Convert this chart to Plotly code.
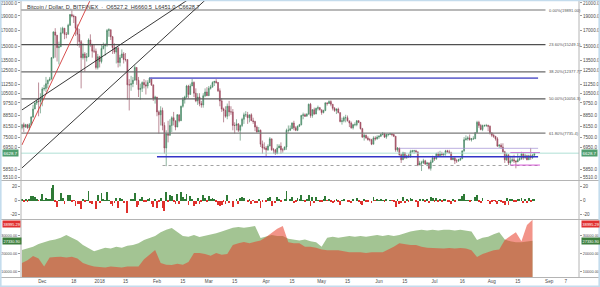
import numpy as np
import pandas as pd
import plotly.graph_objects as go

# ---------------- data ----------------
first_open = 8050.0
closes = [
    # Nov 20-30 2017
    8250, 8100, 8250, 8050, 8250, 8750, 9300, 9750, 9900, 9850, 9950,
    # Dec
    10850, 10900, 11300, 11600, 11700, 13800, 16800, 16400, 14900, 15000,
    16700, 17300, 16500, 16500, 17700, 19200, 19000, 18900, 17300, 16500,
    15600, 13800, 14200, 13800, 13900, 15800, 15300, 14500, 14500, 12800, 13900,
    # Jan 2018
    13400, 14800, 15100, 15200, 17000, 17100, 16200, 14900, 14400, 14900,
    13300, 13800, 14200, 13600, 13600, 11200, 11200, 11300, 11600, 12800,
    11600, 10800, 10900, 11400, 11200, 11100, 11400, 11800, 11200, 10100, 10200,
    # Feb
    9100, 8900, 9200, 8200, 6900, 7700, 7600, 8200, 8700, 8500,
    8100, 8900, 8500, 9500, 10000, 10200, 11100, 10400, 11100, 11400,
    10500, 9900, 10200, 9700, 9600, 10300, 10600, 10300,
    # Mar
    10900, 11000, 11400, 11500, 11400, 10700, 9900, 9300, 9200, 8800,
    9500, 9100, 9100, 8200, 8200, 8300, 7900, 8200, 8600, 8900,
    8900, 8700, 8900, 8500, 8450, 8100, 7800, 7900, 7100, 6900, 6900,
    # Apr
    6800, 7000, 7400, 6800, 6800, 6600, 6900, 7000, 6800, 6800,
    6950, 7900, 7900, 8000, 8350, 8050, 7900, 8150, 8250, 8850,
    8900, 8800, 8950, 9650, 8850, 9250, 8950, 9350, 9400, 9250,
    # May
    9050, 9200, 9750, 9700, 9850, 9650, 9350, 9200, 9300, 9050,
    8450, 8500, 8700, 8700, 8500, 8350, 8050, 8250, 8250, 8500,
    8400, 8000, 7500, 7600, 7450, 7350, 7350, 7100, 7450, 7400, 7500,
    # Jun
    7550, 7650, 7700, 7500, 7650, 7650, 7700, 7650, 7550, 6800,
    6900, 6550, 6300, 6650, 6400, 6500, 6450, 6700, 6750, 6750,
    6700, 6050, 6150, 6150, 6250, 6100, 6150, 5900, 6200, 6400,
    # Jul
    6350, 6600, 6500, 6600, 6550, 6600, 6750, 6700, 6650, 6300,
    6400, 6250, 6250, 6300, 6350, 6750, 7350, 7400, 7450, 7350,
    7400, 7400, 7750, 8400, 8200, 7950, 8200, 8200, 8200, 8150, 7750,
    # Aug 1-24
    7600, 7550, 7400, 7000, 7050, 6950, 6700, 6300, 6550, 6150,
    6250, 6300, 6250, 6200, 6300, 6350, 6600, 6400, 6500, 6300,
    6500, 6400, 6527.2, 6628.7,
]
highs = [
    8300, 8380, 8300, 8300, 8350, 8800, 9600, 9800, 9950, 11400, 10500,
    11000, 11200, 11900, 11650, 11900, 13850, 16900, 17300, 16400, 15600,
    17400, 17500, 17300, 16800, 17900, 19300, 19891, 19200, 19000, 17800,
    17200, 15800, 15400, 14400, 14300, 16000, 16500, 15300, 15300, 14800, 14200,
    14000, 15200, 15500, 15400, 17200, 17300, 17100, 16300, 15400, 14950,
    14900, 14100, 14700, 14400, 14300, 13600, 11700, 12000, 11900, 13000,
    12800, 11900, 11300, 11500, 11700, 11600, 11600, 11880, 11800, 11200, 10300,
    10200, 9200, 9500, 9400, 8400, 7900, 8500, 8600, 8800, 9100,
    8500, 8950, 8900, 9550, 10200, 10300, 11200, 11200, 11300, 11790,
    11500, 10900, 10500, 10500, 9900, 10500, 10900, 11000,
    11100, 11200, 11500, 11550, 11700, 11450, 10900, 10100, 9400, 9500,
    9700, 9900, 9500, 9300, 8400, 8600, 8350, 8250, 8700, 9050,
    9150, 9100, 8900, 9000, 8700, 8500, 8200, 8100, 7950, 7300, 7200,
    7000, 7100, 7500, 7400, 6900, 6850, 7100, 7100, 7200, 6900,
    6980, 8000, 8200, 8200, 8400, 8500, 8150, 8200, 8300, 8900,
    9050, 9000, 9000, 9700, 9750, 9300, 9400, 9400, 9550, 9450,
    9250, 9250, 9800, 9800, 9950, 9950, 9650, 9450, 9350, 9400,
    9050, 8700, 8800, 8900, 8850, 8500, 8450, 8300, 8400, 8550,
    8550, 8400, 8050, 7700, 7650, 7550, 7450, 7400, 7550, 7550, 7600,
    7600, 7700, 7800, 7750, 7700, 7700, 7750, 7700, 7700, 7550,
    6950, 6900, 6600, 6700, 6650, 6550, 6600, 6800, 6800, 6800,
    6800, 6700, 6250, 6250, 6350, 6300, 6200, 6170, 6300, 6500,
    6450, 6650, 6700, 6750, 6700, 6650, 6800, 6800, 6800, 6700,
    6400, 6400, 6350, 6350, 6400, 6750, 7500, 7600, 7550, 7650,
    7450, 7550, 7800, 8500, 8500, 8300, 8250, 8250, 8300, 8250, 8200,
    7750, 7700, 7550, 7500, 7100, 7150, 7150, 6750, 6650, 6550,
    6500, 6500, 6550, 6250, 6650, 6500, 6700, 6650, 6600, 6550,
    6550, 6900, 6580, 6660.5,
]
lows = [
    7950, 7800, 8050, 8000, 7900, 8200, 8700, 9300, 9600, 8800, 9000,
    9500, 10700, 10600, 10900, 11500, 11700, 13700, 13800, 13400, 13100,
    15000, 16600, 15900, 16000, 16500, 17600, 18800, 18000, 16300, 15100,
    14900, 10900, 13600, 12400, 13400, 13900, 15000, 13800, 14300, 12600, 12600,
    12800, 13200, 14700, 14000, 15000, 16200, 15800, 14200, 14200, 13200,
    12800, 12900, 13800, 13200, 13400, 10000, 9200, 10700, 11000, 11600,
    11200, 10200, 10000, 10600, 10900, 10400, 10900, 11400, 11100, 9900, 9700,
    8800, 7700, 8200, 7900, 6600, 6000, 7200, 7600, 7800, 8200,
    7900, 8100, 8400, 8500, 9400, 9700, 10100, 10100, 10400, 11100,
    10200, 9800, 9600, 9500, 9400, 9400, 10200, 10300,
    10300, 10800, 11000, 11100, 11300, 10600, 9500, 9100, 8400, 8700,
    8600, 8800, 8900, 7900, 7700, 7900, 7800, 7300, 8100, 8300,
    8750, 8300, 8400, 8500, 8300, 7850, 7750, 7800, 6950, 6600, 6800,
    6450, 6750, 7000, 6750, 6600, 6550, 6600, 6900, 6600, 6650,
    6800, 6800, 7750, 7850, 8000, 7900, 7850, 7850, 8100, 8200,
    8600, 8750, 8800, 8900, 8700, 8700, 8900, 8950, 9200, 9200,
    8900, 9000, 9150, 9550, 9700, 9500, 9200, 9100, 8950, 9000,
    8400, 8250, 8400, 8400, 8450, 8100, 8000, 7950, 8150, 8150,
    8350, 7950, 7450, 7300, 7400, 7300, 7250, 7050, 7100, 7300, 7350,
    7400, 7500, 7600, 7450, 7400, 7550, 7650, 7550, 7500, 6700,
    6700, 6500, 6150, 6300, 6350, 6350, 6400, 6400, 6650, 6600,
    6650, 6000, 6050, 5780, 6100, 6050, 6000, 5850, 5800, 6150,
    6250, 6300, 6480, 6450, 6500, 6450, 6500, 6650, 6600, 6300,
    6300, 6100, 6150, 6200, 6250, 6350, 6700, 7300, 7300, 7300,
    7250, 7350, 7400, 7750, 8050, 7900, 7850, 8100, 8100, 7850, 7650,
    7500, 7450, 7300, 6950, 6900, 6850, 6650, 6150, 6250, 6050,
    6050, 6200, 6150, 5900, 6200, 6250, 6300, 6300, 6350, 6280,
    6300, 6300, 6350, 6451.0,
]

# Bitfinex margin positions (sampled every 3 days from 2017-11-20)
longs = [22200, 23000, 24000, 25500, 26500, 27500, 28000, 29000, 30500, 29000,
         27500, 25000, 23300, 21500, 22500, 23500, 23000, 24000, 23500, 24500,
         25000, 26000, 27800, 29000, 30000, 32000, 33500, 34400, 32000, 30000,
         29500, 30500, 29400, 30000, 31000, 31500, 32500, 33500, 34500, 35000,
         34500, 35000, 35500, 28900, 29500, 30500, 30000, 30000, 28500, 28000,
         27500, 28000, 27000, 26500, 24000, 29000, 29500, 29000, 29500, 30000,
         29500, 30000, 29500, 30000, 30500, 30000, 30500, 30000, 30500, 31500,
         32500, 33000, 33500, 33000, 33500, 33000, 33500, 33500, 33000, 33500,
         33000, 32500, 27800, 29000, 29500, 31000, 32000, 28000, 27000, 26500,
         26500, 27000, 27330.9]
shorts = [15000, 16500, 18900, 17500, 13000, 18000, 18300, 18500, 18000, 18500,
          17500, 15000, 13900, 13000, 12800, 12500, 13000, 12800, 12500, 13000,
          12800, 13000, 17000, 19500, 22200, 15000, 14000, 13900, 14500, 14000,
          15500, 20500, 20500, 20000, 19000, 20500, 19500, 20000, 25000, 26000,
          26600, 26000, 26600, 27500, 29400, 31500, 34000, 35500, 26500, 26000,
          26000, 24000, 24000, 23500, 22500, 22000, 22000, 22000, 21500, 21000,
          21000, 21000, 20500, 21000, 21000, 21000, 22500, 24000, 26000, 25500,
          25000, 25000, 24000, 23500, 23300, 23300, 23000, 23300, 23000, 23300,
          23000, 22000, 18300, 20000, 21000, 22000, 22500, 27700, 30000, 32000,
          27000, 36000, 38995.29]

fib_names = ["0.00%", "23.60%", "38.20%", "50.00%", "61.80%"]
fib_vals = [19891.00, 15249.1, 12377.7, 10056.3, 7735.4]
fib_colors = ["#a0a0a0", "#505050", "#6a6a6a", "#5a5a5a", "#7a7a7a"]

price_ticks = [21000, 19000, 17000, 15000, 13500, 12500, 11250, 10500, 9750,
               8850, 8150, 7500, 6950, 5850, 5510]
osc_ticks = [20, 0, -20]
pos_ticks = [10000, 20000, 30000]

x_tick_dates = ["2017-12-01", "2017-12-18", "2018-01-01", "2018-01-15", "2018-02-01",
                "2018-02-15", "2018-03-01", "2018-03-15", "2018-04-01", "2018-04-15",
                "2018-05-01", "2018-05-15", "2018-06-01", "2018-06-15", "2018-07-01",
                "2018-07-16", "2018-08-01", "2018-08-15", "2018-09-01", "2018-09-10"]
x_tick_text = ["Dec", "18", "2018", "15", "Feb", "15", "Mar", "15", "Apr", "15",
               "May", "15", "Jun", "15", "Jul", "16", "Aug", "15", "Sep", "7"]

# drawings: (start, end, price)
red_trend = (["2017-11-20", "2017-12-28 08:00"], [7060, 22400])
black_trend1 = (["2017-11-20", "2018-02-21 12:00"], [9236, 22300])
black_trend2 = (["2017-11-20", "2018-03-02"], [5916, 22300])
hlines = [
    ("2018-01-28", "2018-08-26", 11790, "#6f6fd0", 1.8, "solid"),
    ("2018-02-01", "2018-08-26", 6452, "#3434c8", 1.4, "solid"),
    ("2018-02-04", "2018-08-26", 6030, "#8c8c8c", 0.8, "dot"),
    ("2018-06-12", "2018-08-26", 6880, "#a99ad8", 0.8, "solid"),
    ("2018-08-11", "2018-08-27", 6663, "#d548d5", 0.9, "solid"),
    ("2018-08-11", "2018-08-27", 6050, "#d548d5", 0.9, "solid"),
]
last_price = 6628.7
header = "Bitcoin / Dollar, D, BITFINEX  \u00b7  O6527.2  H6660.5  L6451.0  C6628.7"

# ---------------- derived ----------------
n = min(len(closes), len(highs), len(lows))
closes, highs, lows = closes[:n], highs[:n], lows[:n]
dates = pd.date_range("2017-11-20", periods=n, freq="D")
opens = [first_open] + closes[:-1]
pct = [(c - o) / o * 100.0 for o, c in zip(opens, closes)]
m = min(len(longs), len(shorts))
pos_dates = pd.date_range("2017-11-20", periods=m, freq="3D")

x_start = pd.Timestamp("2017-11-19 12:00")
x_end = x_start + pd.Timedelta(days=558 / 1.85)

H = 287.0
def py(px):
    return 1 - px / H

FONT = "Liberation Sans"
TICK_FONT = dict(family=FONT, size=4.6, color="#4a4a4a")
POS_TICK_FONT = dict(family=FONT, size=3.9, color="#4a4a4a")

fig = go.Figure()

# price candles
fig.add_trace(go.Candlestick(
    x=dates, open=opens, high=highs, low=lows, close=closes,
    increasing=dict(line=dict(color="#3f7f5c", width=0.6), fillcolor="#6aab8a"),
    decreasing=dict(line=dict(color="#8e3e52", width=0.6), fillcolor="#bf5d74"),
    whiskerwidth=0, xaxis="x", yaxis="y", showlegend=False, hoverinfo="skip"))

# fib levels
fib_end = "2018-08-30"
for name, val, col in zip(fib_names, fib_vals, fib_colors):
    fig.add_trace(go.Scatter(x=[x_start, fib_end], y=[val, val], mode="lines",
                             line=dict(color=col, width=1.3), xaxis="x", yaxis="y",
                             showlegend=False, hoverinfo="skip"))

# horizontal drawings
for d0, d1, val, col, w, dash in hlines:
    fig.add_trace(go.Scatter(x=[d0, d1], y=[val, val], mode="lines",
                             line=dict(color=col, width=w, dash=dash), xaxis="x", yaxis="y",
                             showlegend=False, hoverinfo="skip"))

# current price line
fig.add_trace(go.Scatter(x=[x_start, x_end], y=[last_price, last_price], mode="lines",
                         line=dict(color="#a6ddd0", width=0.9), xaxis="x", yaxis="y",
                         showlegend=False, hoverinfo="skip"))

# trend lines
for (dd, vv), col in [(red_trend, "#d23a3a"), (black_trend1, "#222222"), (black_trend2, "#222222")]:
    fig.add_trace(go.Scatter(x=dd, y=vv, mode="lines", line=dict(color=col, width=0.9),
                             xaxis="x", yaxis="y", showlegend=False, hoverinfo="skip"))

# oscillator (daily % change)
fig.add_trace(go.Bar(x=dates, y=pct,
                     marker=dict(color=["#2e7a36" if v >= 0 else "#e0302c" for v in pct],
                                 line=dict(width=0)),
                     width=0.42 * 86400000, xaxis="x", yaxis="y2",
                     showlegend=False, hoverinfo="skip"))

# longs / shorts areas
fig.add_trace(go.Scatter(x=pos_dates, y=longs[:m], mode="lines", fill="tozeroy",
                         line=dict(width=0, color="#a3c493"), fillcolor="#a3c493",
                         xaxis="x", yaxis="y3", showlegend=False, hoverinfo="skip"))
fig.add_trace(go.Scatter(x=pos_dates, y=shorts[:m], mode="lines", fill="tozeroy",
                         line=dict(width=0, color="rgba(232,60,40,0.55)"),
                         fillcolor="rgba(232,60,40,0.55)",
                         xaxis="x", yaxis="y3", showlegend=False, hoverinfo="skip"))

# invisible anchors for right-hand axes
for ax, val in [("y4", 10000), ("y5", 0), ("y6", 20000)]:
    fig.add_trace(go.Scatter(x=[dates[0]], y=[val], mode="markers",
                             marker=dict(opacity=0, size=1), xaxis="x", yaxis=ax,
                             showlegend=False, hoverinfo="skip"))

lo_log, hi_log = 3.732, 4.332
price_text = [f"{v:.1f}" for v in price_ticks]
pos_text = [f"{v:.2f}" for v in pos_ticks]
osc_text = [str(v) for v in osc_ticks]
osc_range = [-26.7, 29.6]
pos_range = [7200, 39400]

dom_price = [py(180), 1.0]
dom_osc = [py(219), py(180)]
dom_pos = [py(277), py(219)]

common = dict(showgrid=False, zeroline=False, showline=False, ticks="outside",
              ticklen=2, tickcolor="#9a9a9a", automargin=False, fixedrange=True)

fig.update_layout(
    template="none",
    width=600, height=287,
    margin=dict(l=0, r=0, t=0, b=0),
    paper_bgcolor="white", plot_bgcolor="white",
    showlegend=False,
    bargap=0,
    font=dict(family=FONT, size=5, color="#4a4a4a"),
    xaxis=dict(domain=[21 / 600, 579 / 600], range=[x_start, x_end], anchor="y3",
               tickvals=x_tick_dates, ticktext=x_tick_text, showgrid=False,
               zeroline=False, showline=False, ticks="", tickfont=TICK_FONT,
               rangeslider=dict(visible=False), automargin=False, fixedrange=True),
    yaxis=dict(domain=dom_price, type="log", range=[lo_log, hi_log], side="left",
               tickvals=price_ticks, ticktext=price_text, anchor="x",
               tickfont=TICK_FONT, **common),
    yaxis2=dict(domain=dom_osc, range=osc_range, side="left", tickvals=osc_ticks,
                ticktext=osc_text, anchor="x", tickfont=TICK_FONT, **common),
    yaxis3=dict(domain=dom_pos, range=pos_range, side="left", tickvals=pos_ticks,
                ticktext=pos_text, anchor="x", tickfont=POS_TICK_FONT, **common),
    yaxis4=dict(overlaying="y", type="log", range=[lo_log, hi_log], side="right",
                tickvals=price_ticks, ticktext=price_text, anchor="x",
                tickfont=TICK_FONT, **common),
    yaxis5=dict(overlaying="y2", range=osc_range, side="right", tickvals=osc_ticks,
                ticktext=osc_text, anchor="x", tickfont=TICK_FONT, **common),
    yaxis6=dict(overlaying="y3", range=pos_range, side="right", tickvals=pos_ticks,
                ticktext=pos_text, anchor="x", tickfont=POS_TICK_FONT, **common),
)

# frame / separators
shapes = []
line_col = "#b4b4b4"
for yy in [180.5, 219.5, 277.5]:
    shapes.append(dict(type="line", xref="paper", yref="paper", x0=0, x1=1,
                       y0=py(yy), y1=py(yy), line=dict(color=line_col, width=1)))
for xx in [21, 579]:
    shapes.append(dict(type="line", xref="paper", yref="paper", x0=xx / 600, x1=xx / 600,
                       y0=py(277.5), y1=1, line=dict(color=line_col, width=1)))
shapes.append(dict(type="rect", xref="paper", yref="paper", x0=0.001, x1=0.999,
                   y0=0.002, y1=0.999, line=dict(color="#c4dced", width=2)))
fig.update_layout(shapes=shapes)

ann = []
ann.append(dict(xref="paper", yref="paper", x=25 / 600, y=py(2), xanchor="left",
                yanchor="top", text=header, showarrow=False,
                font=dict(family=FONT, size=5.6, color="#333333")))
# fib labels
for name, val in zip(fib_names, fib_vals):
    txt = f"{name}({val:.2f})" if val == fib_vals[0] else f"{name}({val:.1f})"
    ann.append(dict(xref="x", yref="y", x="2018-08-31", y=float(np.log10(val)),
                    xanchor="left", yanchor="middle", text=txt,
                    showarrow=False, font=dict(family=FONT, size=4.1, color="#555555")))
# value badges
def badge(x, ref, y, txt, bg, size=4.4):
    return dict(xref="paper", yref=ref, x=x, y=y, xanchor="left", yanchor="middle",
                text=txt, showarrow=False, bgcolor=bg, borderpad=0.6,
                font=dict(family=FONT, size=size, color="white"))
for xx in [1.5 / 600, 581 / 600]:
    ann.append(badge(xx, "y", float(np.log10(last_price)), f"{last_price:.1f}", "#4f9d6e"))
    b = badge(xx, "y3", shorts[m - 1], f"{shorts[m - 1]:.2f}", "#e03030", 3.9)
    b["yshift"] = -4
    ann.append(b)
    ann.append(badge(xx, "y3", longs[m - 1], f"{longs[m - 1]:.2f}", "#3e7f3e", 3.9))
fig.update_layout(annotations=ann)

fig.write_html("out.html")
